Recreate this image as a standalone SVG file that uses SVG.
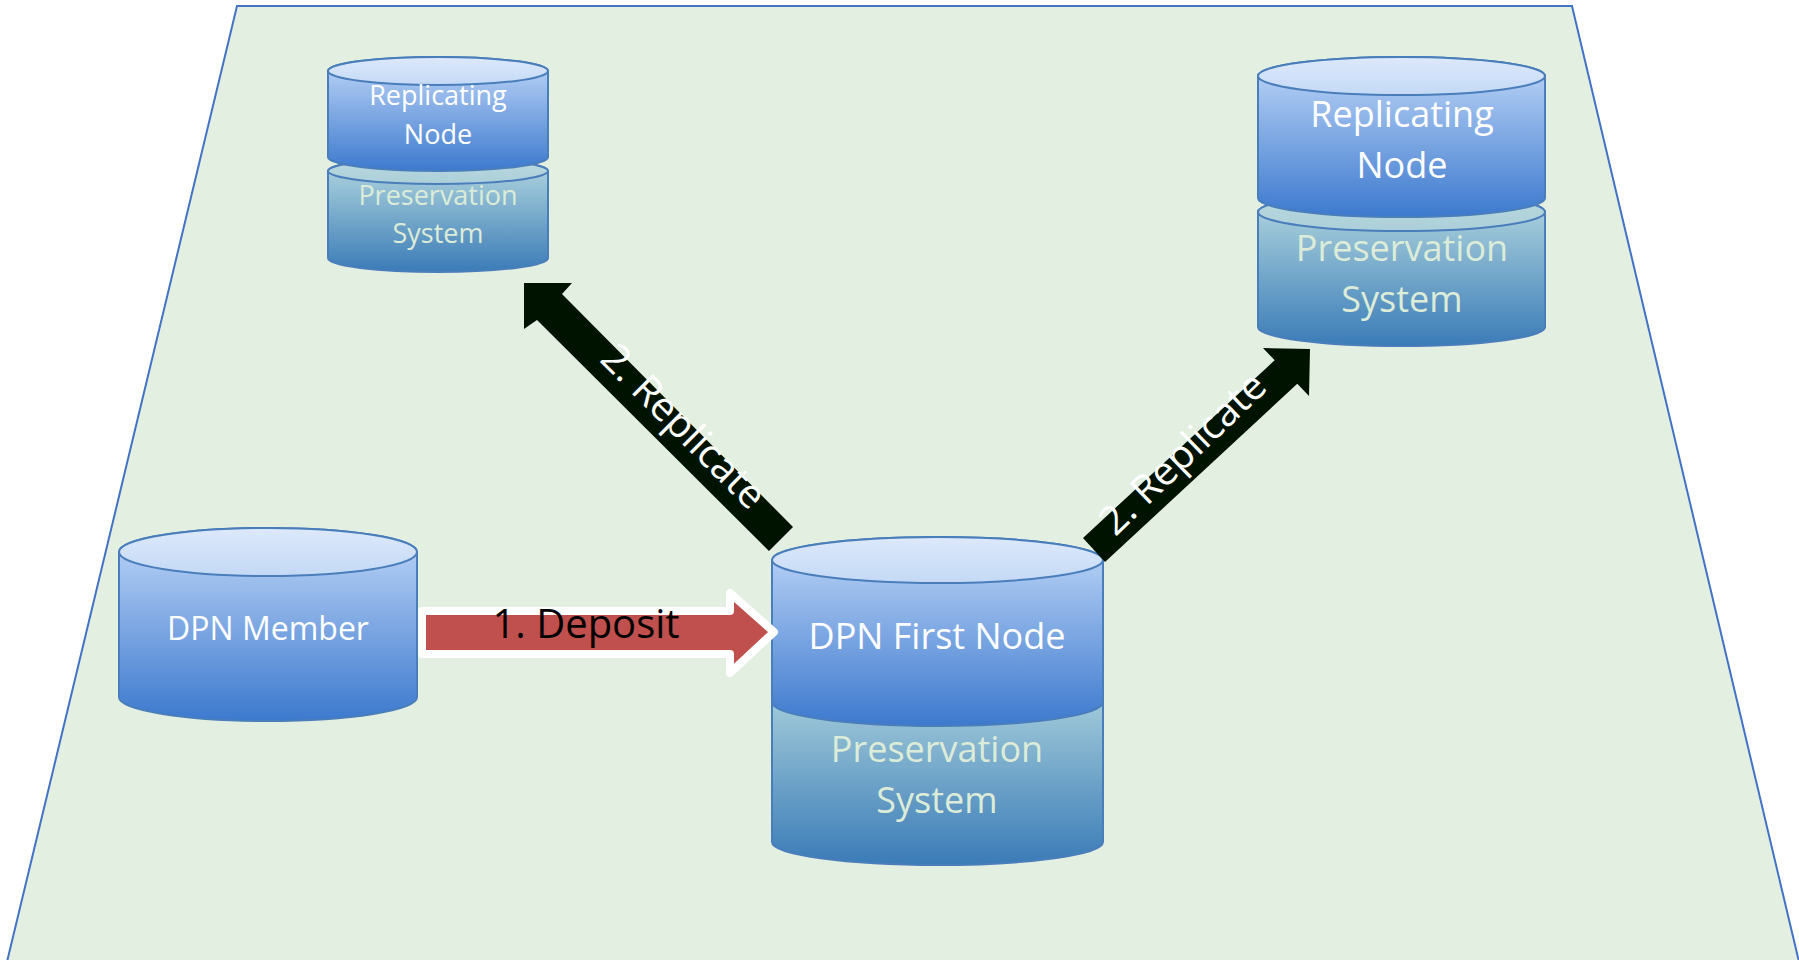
<svg xmlns="http://www.w3.org/2000/svg" width="1799" height="960" viewBox="0 0 1799 960">
<defs>
<linearGradient id="gBlueBody" x1="0" y1="0" x2="0" y2="1">
<stop offset="0" stop-color="#c0d8f7"/>
<stop offset="0.2" stop-color="#a6c5f0"/>
<stop offset="1" stop-color="#3c79ce"/>
</linearGradient>
<linearGradient id="gBlueTop" x1="0" y1="0" x2="0" y2="1">
<stop offset="0" stop-color="#dde9fb"/>
<stop offset="1" stop-color="#c4d9f6"/>
</linearGradient>
<linearGradient id="gTealBody" x1="0" y1="0" x2="0" y2="1">
<stop offset="0" stop-color="#b4d6df"/>
<stop offset="0.2" stop-color="#9dc7d8"/>
<stop offset="1" stop-color="#3a7bb7"/>
</linearGradient>
<linearGradient id="gTealTop" x1="0" y1="0" x2="0" y2="1">
<stop offset="0" stop-color="#bcd9df"/>
<stop offset="1" stop-color="#abcfd9"/>
</linearGradient>
</defs>
<style>
.bb{fill:url(#gBlueBody);stroke:#4a7ebb;stroke-width:2}
.bt{fill:url(#gBlueTop);stroke:#4a7ebb;stroke-width:2}
.tb{fill:url(#gTealBody);stroke:#4a7ebb;stroke-width:2}
.tt{fill:url(#gTealTop);stroke:#4a7ebb;stroke-width:2}
.w{font-family:"Open Sans","Noto Sans","Liberation Sans",sans-serif;fill:#ffffff;text-anchor:middle}
.g{font-family:"Open Sans","Noto Sans","Liberation Sans",sans-serif;fill:#dcecd8;text-anchor:middle}
.k{font-family:"Open Sans","Noto Sans","Liberation Sans",sans-serif;fill:#000000;text-anchor:middle}
.rep{fill:#001200}
</style>
<rect width="1799" height="960" fill="#ffffff"/>
<polygon points="237,6 1572,6 1800,966 6,966" fill="#e2efe1" stroke="#4472c4" stroke-width="2"/>

<g id="node-replicating-small">
<path class="tb" d="M328,171 L328,258 A110,14 0 0 0 548,258 L548,171 A110,13 0 0 0 328,171 Z"/>
<ellipse class="tt" cx="438" cy="171" rx="110" ry="13"/>
<path class="bb" d="M328,71 L328,157 A110,14 0 0 0 548,157 L548,71 A110,14 0 0 0 328,71 Z"/>
<ellipse class="bt" cx="438" cy="71" rx="110" ry="14"/>
<text class="w" x="438" y="105" font-size="27">Replicating</text>
<text class="w" x="438" y="144" font-size="27">Node</text>
<text class="g" x="438" y="205" font-size="27">Preservation</text>
<text class="g" x="438" y="243" font-size="27">System</text>
</g>

<g id="node-replicating-large">
<path class="tb" d="M1258,212 L1258,327 A143.5,19 0 0 0 1545,327 L1545,212 A143.5,19 0 0 0 1258,212 Z"/>
<ellipse class="tt" cx="1401.5" cy="212" rx="143.5" ry="19"/>
<path class="bb" d="M1258,76 L1258,198 A143.5,19 0 0 0 1545,198 L1545,76 A143.5,19 0 0 0 1258,76 Z"/>
<ellipse class="bt" cx="1401.5" cy="76" rx="143.5" ry="19"/>
<text class="w" x="1402" y="127" font-size="36">Replicating</text>
<text class="w" x="1402" y="178" font-size="36">Node</text>
<text class="g" x="1402" y="261" font-size="36">Preservation</text>
<text class="g" x="1402" y="312" font-size="36">System</text>
</g>

<g id="node-dpn-member">
<path class="bb" d="M119,552 L119,697 A149,24 0 0 0 417,697 L417,552 A149,24 0 0 0 119,552 Z"/>
<ellipse class="bt" cx="268" cy="552" rx="149" ry="24"/>
<text class="w" x="268" y="640" font-size="32">DPN Member</text>
</g>

<g id="node-dpn-first">
<path class="tb" d="M772,690 L772,842 A165.5,23 0 0 0 1103,842 L1103,690 A165.5,23 0 0 0 772,690 Z"/>
<path class="bb" d="M772,560 L772,702 A165.5,24 0 0 0 1103,702 L1103,560 A165.5,23 0 0 0 772,560 Z"/>
<ellipse class="bt" cx="937.5" cy="560" rx="165.5" ry="23"/>
<text class="w" x="937" y="649" font-size="36">DPN First Node</text>
<text class="g" x="937" y="762" font-size="36">Preservation</text>
<text class="g" x="937" y="813" font-size="36">System</text>
</g>

<g id="connectors">
<g id="edge-deposit">
<polygon points="422,611 730,611 730,593 774,632 730,673 730,654 422,654" fill="#c0504d" stroke="#ffffff" stroke-width="8" stroke-linejoin="round"/>
<text class="k" x="586" y="638" font-size="40">1. Deposit</text>
</g>
<g id="edge-replicate-left">
<polygon class="rep" points="524,283 572,283 562,294 793,527 769,551 537,320 524,329"/>
<text class="w" font-size="40" transform="translate(674,436) rotate(45)">2. Replicate</text>
</g>
<g id="edge-replicate-right">
<polygon class="rep" points="1083,538 1274.7,360.2 1263,348 1310,349 1309,396 1297.3,383.8 1105,562"/>
<text class="w" font-size="40" transform="translate(1192,463) rotate(-44)">2. Replicate</text>
</g>
</g>
</svg>
